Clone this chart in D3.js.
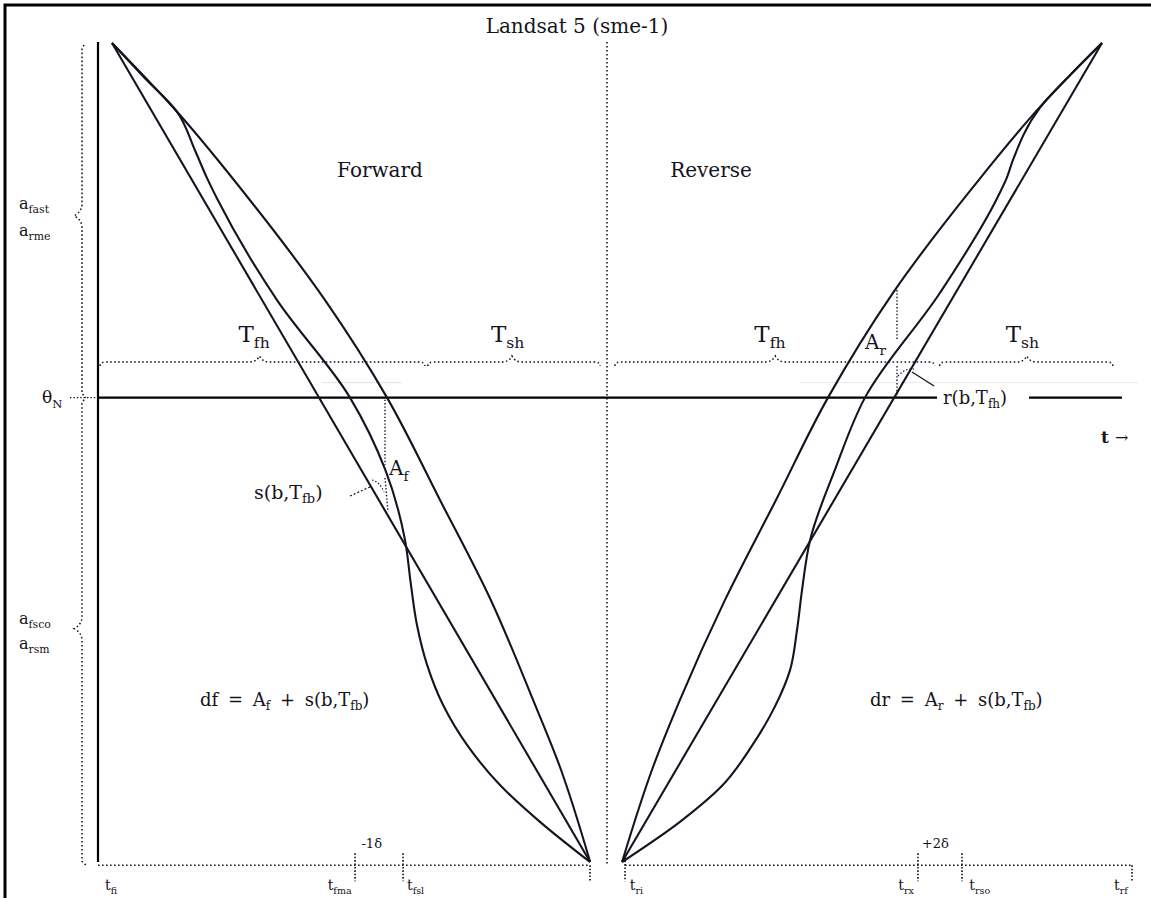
<!DOCTYPE html>
<html>
<head>
<meta charset="utf-8">
<script src="https://cdn.jsdelivr.net/npm/d3@7/dist/d3.min.js"></script>
<style>
  html, body { margin: 0; padding: 0; background: #fff; }
  svg { display: block; }
  text { font-family: "DejaVu Serif", "Liberation Serif", serif; fill: #141420; }
</style>
</head>
<body>
<svg id="chart" width="1151" height="898"></svg>
<script>
// Scan-angle profiles: time t (0..1000 across both half-cycles), angle (0..100 %)
const forwardLinear = [[0, 100], [483, 0]];
const forwardUpper = [[0, 100], [65.7, 91.6], [139.4, 80.8], [215.2, 68.6], [277.8, 56.7],
  [331.3, 44.2], [381.8, 32.2], [425.3, 19.8], [452.5, 11.6], [483, 0]];
const forwardActual = [[0, 100], [33.3, 95.7], [65.7, 91.6], [83.8, 86.9], [96, 83.5], [107, 80.8],
  [166.7, 68.6], [240.4, 56.7], [276, 47.9], [296, 39.3], [302, 33.8], [308.1, 28.9], [318.2, 24.1],
  [334.3, 19.2], [358.6, 14.3], [391.9, 9.4], [432.3, 4.9], [482.8, 0]];
const reverseLinear = [[515.2, 0], [1000, 100]];
const reverseUpper = [[515.2, 0], [546.5, 11.6], [573.7, 19.8], [619.2, 32], [670.7, 44.2],
  [723.2, 56.7], [788.9, 69.5], [869.7, 82.4], [937.4, 92.2], [1000, 100]];
const reverseActual = [[515.2, 0], [573.7, 4.9], [616.2, 9.3], [646.5, 14.2], [669.7, 19],
  [684.8, 23.4], [691.9, 28.3], [697, 33.2], [705.1, 39.3], [730.3, 47.9], [760.6, 56.7], [836.4, 69.5],
  [893, 80.8], [904, 83.6], [910, 85.7], [937.4, 92.1], [968.7, 96.2], [1000, 100]];

// Reference levels and time marks
const thetaNominal = 56.7;
const halfScanLevel = 61.05;
const timeTicks = [245.5, 294, 482.8, 518.2, 814.1, 858.6, 1030.3];
const timeTickLabels = [
  { t: -7, main: "t", sub: "fi", anchor: "start" },
  { t: 242, main: "t", sub: "fma", anchor: "end" },
  { t: 298, main: "t", sub: "fsl", anchor: "start" },
  { t: 523, main: "t", sub: "ri", anchor: "start" },
  { t: 810, main: "t", sub: "rx", anchor: "end" },
  { t: 866, main: "t", sub: "rso", anchor: "start" },
  { t: 1026, main: "t", sub: "rf", anchor: "end" }
];
const offsetLabels = [{ t: 252, text: "-1δ" }, { t: 818, text: "+2δ" }];
const braceSpans = [
  { from: -12, peak: 149, to: 316, main: "T", sub: "fh" },
  { from: 319, peak: 404, to: 493, main: "T", sub: "sh" },
  { from: 508, peak: 670, to: 831, main: "T", sub: "fh" },
  { from: 836, peak: 924, to: 1011, main: "T", sub: "sh" }
];

const svg = d3.select("#chart");
const x = d3.scaleLinear().domain([0, 1000]).range([112, 1102]);
const y = d3.scaleLinear().domain([0, 100]).range([862, 43]);

const ink = "#141420";
const dotted = "1.6,2.4";

// frame
svg.append("rect").attr("x", 5).attr("y", 5).attr("width", 1160).attr("height", 910)
  .attr("fill", "none").attr("stroke", "#000").attr("stroke-width", 3);

// left angle axis
svg.append("line").attr("x1", 98).attr("x2", 98).attr("y1", y(100) - 1).attr("y2", y(0))
  .attr("stroke", "#000").attr("stroke-width", 2.2);

// outer dotted angle extent with braces
function vBrace(xp, y0, y1, ym) {
  const p = d3.path();
  p.moveTo(xp + 2, y0);
  p.lineTo(xp, y0 + 4);
  p.lineTo(xp, ym - 12);
  p.quadraticCurveTo(xp, ym - 4, xp - 8, ym);
  p.quadraticCurveTo(xp, ym + 4, xp, ym + 12);
  p.lineTo(xp, y1 - 4);
  p.lineTo(xp + 4, y1);
  return p.toString();
}
svg.append("path").attr("d", vBrace(82, y(100) + 2, y(thetaNominal), y(78.9)))
  .attr("fill", "none").attr("stroke", ink).attr("stroke-width", 1.5).attr("stroke-dasharray", dotted);
svg.append("path").attr("d", vBrace(82, y(thetaNominal) + 2, y(-0.4), y(28.5)))
  .attr("fill", "none").attr("stroke", ink).attr("stroke-width", 1.5).attr("stroke-dasharray", dotted);

// centre divider between forward and reverse
svg.append("line").attr("x1", 607).attr("x2", 607).attr("y1", y(100) - 1).attr("y2", y(-0.4))
  .attr("stroke", ink).attr("stroke-width", 1.6).attr("stroke-dasharray", dotted);

// time axis (dotted)
svg.append("line").attr("x1", 98).attr("x2", x(482.8)).attr("y1", y(-0.4)).attr("y2", y(-0.4))
  .attr("stroke", ink).attr("stroke-width", 1.5).attr("stroke-dasharray", dotted);
svg.append("line").attr("x1", x(518.2)).attr("x2", x(1030.3)).attr("y1", y(-0.4)).attr("y2", y(-0.4))
  .attr("stroke", ink).attr("stroke-width", 1.5).attr("stroke-dasharray", dotted);

// time ticks
timeTicks.forEach((t, i) => {
  const tall = (i === 0 || i === 1 || i === 4 || i === 5);
  svg.append("line").attr("x1", x(t)).attr("x2", x(t))
    .attr("y1", tall ? y(-0.4) - 12 : y(-0.4) - (i === 3 ? 8 : 0)).attr("y2", y(-0.4) + 16)
    .attr("stroke", ink).attr("stroke-width", 1.6).attr("stroke-dasharray", "1.6,1.8");
});

function subText(g, px, py, main, sub, size, anchor) {
  const t = g.append("text").attr("x", px).attr("y", py).attr("font-size", size)
    .attr("text-anchor", anchor || "start");
  t.append("tspan").text(main);
  t.append("tspan").attr("font-size", size * 0.68).attr("dy", size * 0.28).text(sub);
  return t;
}

timeTickLabels.forEach(d => {
  subText(svg, x(d.t), y(-0.4) + 25, d.main, d.sub, 14, d.anchor);
});
offsetLabels.forEach(d => {
  svg.append("text").attr("x", x(d.t)).attr("y", y(-0.4) - 17).attr("font-size", 13).text(d.text);
});

// half-scan period braces
function hBrace(x0, xm, x1, yp) {
  const p = d3.path();
  p.moveTo(x0, yp + 4);
  p.quadraticCurveTo(x0, yp, x0 + 6, yp);
  p.lineTo(xm - 10, yp);
  p.quadraticCurveTo(xm - 3, yp, xm, yp - 6);
  p.quadraticCurveTo(xm + 3, yp, xm + 10, yp);
  p.lineTo(x1 - 6, yp);
  p.quadraticCurveTo(x1, yp, x1, yp + 4);
  return p.toString();
}
braceSpans.forEach(d => {
  svg.append("path").attr("d", hBrace(x(d.from), x(d.peak), x(d.to), y(halfScanLevel)))
    .attr("fill", "none").attr("stroke", ink).attr("stroke-width", 1.5).attr("stroke-dasharray", dotted);
  subText(svg, x(d.peak) - 21, y(halfScanLevel) - 20, d.main, d.sub, 23, "start");
});

// nominal angle line
svg.append("line").attr("x1", 98).attr("x2", 937).attr("y1", y(thetaNominal)).attr("y2", y(thetaNominal))
  .attr("stroke", "#000").attr("stroke-width", 2.2);
svg.append("line").attr("x1", 1029).attr("x2", 1122).attr("y1", y(thetaNominal)).attr("y2", y(thetaNominal))
  .attr("stroke", "#000").attr("stroke-width", 2.2);
// faint guide just below it
svg.append("line").attr("x1", 322).attr("x2", 402).attr("y1", y(thetaNominal) - 15).attr("y2", y(thetaNominal) - 15)
  .attr("stroke", "#e2e2e2").attr("stroke-width", 1);
svg.append("line").attr("x1", 800).attr("x2", 1138).attr("y1", y(thetaNominal) - 15).attr("y2", y(thetaNominal) - 15)
  .attr("stroke", "#e8e8e8").attr("stroke-width", 1);

// scan profiles, drawn top to bottom
const line = d3.line().x(d => x(d[0])).y(d => y(d[1])).curve(d3.curveMonotoneY);
[forwardLinear, forwardUpper, forwardActual, reverseLinear, reverseUpper, reverseActual].forEach(s => {
  const pts = s.slice().sort((a, b) => b[1] - a[1]);
  svg.append("path").datum(pts).attr("d", line)
    .attr("fill", "none").attr("stroke", ink).attr("stroke-width", 2.1);
});

// forward annotations
svg.append("line").attr("x1", 385).attr("x2", 385).attr("y1", y(thetaNominal) + 2).attr("y2", 465)
  .attr("stroke", ink).attr("stroke-width", 1.4).attr("stroke-dasharray", "1.4,2");
svg.append("line").attr("x1", 385).attr("x2", 388).attr("y1", 478).attr("y2", 512)
  .attr("stroke", ink).attr("stroke-width", 1.4).attr("stroke-dasharray", "1.4,2");
svg.append("path").attr("d", "M372,480 Q380,482 384,492")
  .attr("fill", "none").attr("stroke", ink).attr("stroke-width", 1.2).attr("stroke-dasharray", "1.4,2");
svg.append("line").attr("x1", 350).attr("x2", 372).attr("y1", 496).attr("y2", 486)
  .attr("stroke", ink).attr("stroke-width", 1.2).attr("stroke-dasharray", "2,2");
subText(svg, 389, 475, "A", "f", 20, "start");
const sfl = svg.append("text").attr("x", 254).attr("y", 499).attr("font-size", 19);
sfl.append("tspan").text("s(b,T");
sfl.append("tspan").attr("font-size", 13).attr("dy", 4).text("fb");
sfl.append("tspan").attr("dy", -4).text(")");

// reverse annotations
svg.append("line").attr("x1", 897).attr("x2", 897).attr("y1", 290).attr("y2", 340)
  .attr("stroke", ink).attr("stroke-width", 1.4).attr("stroke-dasharray", "1.4,2");
svg.append("line").attr("x1", 897).attr("x2", 897).attr("y1", 366).attr("y2", y(thetaNominal))
  .attr("stroke", ink).attr("stroke-width", 1.4).attr("stroke-dasharray", "1.4,2");
svg.append("path").attr("d", "M898,376 Q905,368 914,369")
  .attr("fill", "none").attr("stroke", ink).attr("stroke-width", 1.2).attr("stroke-dasharray", "1.4,2");
svg.append("line").attr("x1", 912).attr("x2", 934).attr("y1", 372).attr("y2", 386)
  .attr("stroke", ink).attr("stroke-width", 1.3);
subText(svg, 865, 349, "A", "r", 20, "start");
const srl = svg.append("text").attr("x", 943).attr("y", 404).attr("font-size", 18);
srl.append("tspan").text("r(b,T");
srl.append("tspan").attr("font-size", 12).attr("dy", 4).text("fh");
srl.append("tspan").attr("dy", -4).text(")");

// panel and title text
svg.append("text").attr("x", 577).attr("y", 33).attr("text-anchor", "middle").attr("font-size", 20)
  .text("Landsat 5 (sme-1)");
svg.append("text").attr("x", 380).attr("y", 177).attr("text-anchor", "middle").attr("font-size", 20).text("Forward");
svg.append("text").attr("x", 711).attr("y", 177).attr("text-anchor", "middle").attr("font-size", 20).text("Reverse");

function equation(px, py, lead, sub) {
  const t = svg.append("text").attr("x", px).attr("y", py).attr("font-size", 18)
    .attr("word-spacing", 4);
  t.append("tspan").text(lead + " = A");
  t.append("tspan").attr("font-size", 12).attr("dy", 4).text(sub);
  t.append("tspan").attr("dy", -4).text(" + s(b,T");
  t.append("tspan").attr("font-size", 12).attr("dy", 4).text("fb");
  t.append("tspan").attr("dy", -4).text(")");
}
equation(200, 706, "df", "f");
equation(870, 706, "dr", "r");

svg.append("text").attr("x", 1101).attr("y", 443).attr("font-size", 17).attr("font-weight", "bold").text("t");
svg.append("text").attr("x", 1115).attr("y", 443).attr("font-size", 16).text("→");

// left side angle labels
subText(svg, 19, 209, "a", "fast", 16, "start");
subText(svg, 19, 236, "a", "rme", 16, "start");
subText(svg, 19, 624, "a", "fsco", 16, "start");
subText(svg, 19, 649, "a", "rsm", 16, "start");
subText(svg, 42, 403, "θ", "N", 17, "start");
svg.append("line").attr("x1", 70).attr("x2", 98).attr("y1", y(thetaNominal)).attr("y2", y(thetaNominal))
  .attr("stroke", ink).attr("stroke-width", 1.3).attr("stroke-dasharray", "1.4,2");
</script>
</body>
</html>
